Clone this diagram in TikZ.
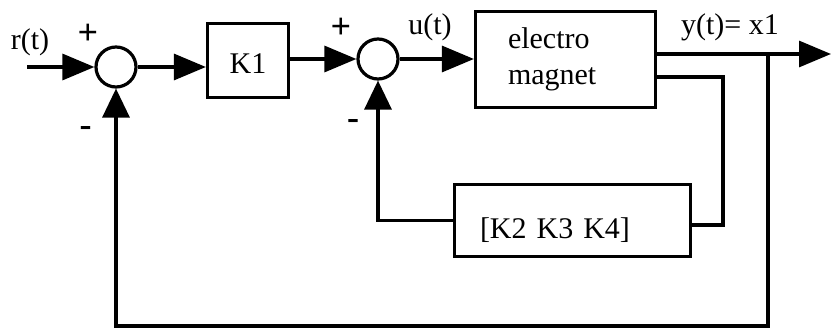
\documentclass[tikz,border=0pt]{standalone}
\usepackage{fontspec}
\setmainfont{Liberation Serif}
\usetikzlibrary{arrows.meta}
\begin{document}
\begin{tikzpicture}[x=1pt,y=-1pt, line width=3.2pt,
  every node/.style={font=\fontsize{30}{36}\selectfont, inner sep=0pt},
  sign/.style={font=\fontsize{36}{40}\selectfont\bfseries},
  sumnode/.style={draw, circle, minimum size=40pt},
  blk/.style={draw, rectangle},
  arr/.style={-{Triangle[length=32pt,width=26pt]}},
  varr/.style={-{Triangle[length=29pt,width=27pt]}}]
\useasboundingbox (0,0) rectangle (831,331);
% nodes
\node[anchor=base] (rt) at (30,50) {r(t)};
\coordinate (in) at (27,67);
\node[sumnode] (s1) at (116,67) {};
\node[blk, minimum width=81pt, minimum height=74pt, text height=26pt, text depth=0pt] (K1) at (248,60.5) {K1};
\node[sumnode] (s2) at (378,59) {};
\node[blk, minimum width=180pt, minimum height=96pt, inner xsep=32.5pt, text width=115pt, align=left] (EM) at (565.5,59.5) {\raisebox{-5pt}{electro}\\\raisebox{-5pt}{magnet}};
\node[blk, minimum width=236pt, minimum height=72pt, inner xsep=25.5pt, text width=185pt, align=left, text height=36pt, text depth=0pt] (K234) at (572.5,220.5) {[K2 K3 K4]};
% labels
\node[sign] (p1) at (88,34) {+};
\node[sign] (m1) at (85.5,132) {-};
\node[sign] (p2) at (341,28) {+};
\node[sign] (m2) at (353,125) {-};
\node[anchor=base] (ut) at (430,35) {u(t)};
\node[anchor=base] (yt) at (730,35) {y(t)= x1};
% coordinates
\coordinate (out) at (831,54);
\coordinate (br) at (768,54);
\coordinate (b1) at (768,326);
\coordinate (e2) at (723,77);
\coordinate (k2r) at (723,225);
% connectors
\draw[arr] (in) -- (s1);
\draw[arr] (s1) -- (s1 -| K1.west);
\draw[arr] (K1.east |- s2) -- (s2);
\draw[arr] (s2) -- (s2 -| EM.west);
\draw[arr] (EM.east |- out) -- (out);
\draw[varr] (br) -- (b1) -| (s1.south);
\draw (EM.east |- e2) -| (k2r) -- (K234.east |- k2r);
\draw[varr] (K234.west) -| (s2.south);
\end{tikzpicture}
\end{document}
